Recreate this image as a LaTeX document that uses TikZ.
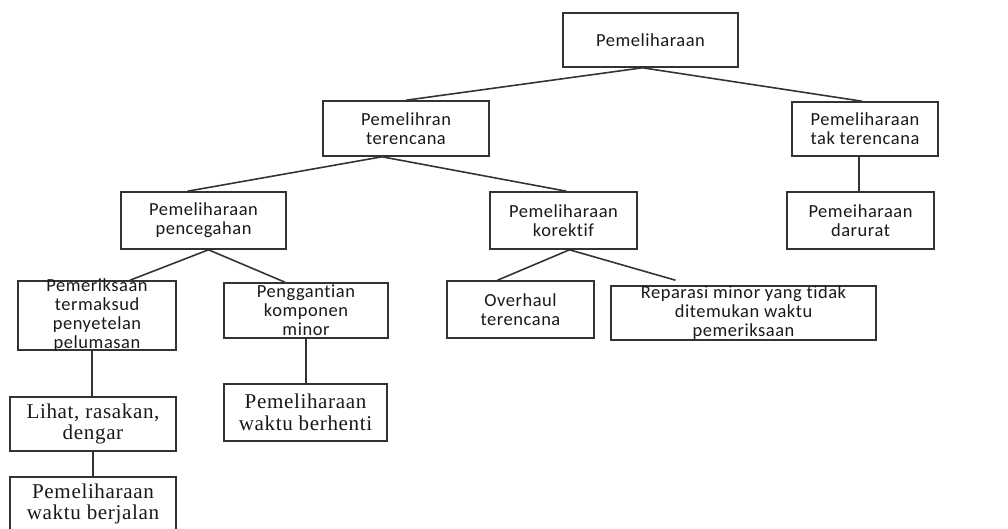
\documentclass[tikz,border=0pt]{standalone}
\usepackage{fontspec}
\newfontfamily\calib[LetterSpace=3,Ligatures=NoCommon]{Carlito}
\newfontfamily\tnr[LetterSpace=3]{Liberation Serif}
\usetikzlibrary{calc}
\tikzset{
  box/.style={draw=black!80,line width=0.9pt,inner sep=0pt,align=center,
    text=black!90,font=\calib\fontsize{10.5}{10.8}\selectfont},
  sbox/.style={box,font=\tnr\fontsize{12}{12.3}\selectfont},
  link/.style={draw=black!80,line width=0.9pt}
}
\newcommand{\tallcell}[3]{\parbox[c][#1][c]{#2}{\centering #3}}

\begin{document}
\begin{tikzpicture}[x=0.02cm,y=-0.02cm]
    \useasboundingbox (0,0) rectangle (1008,528);
    \fill[white] (0,0) rectangle (1008,528);
    \clip (0,0) rectangle (1008,528);
    \node[box,minimum width=3.5cm,minimum height=1.08cm] (root) at (650.5,40) {Pemeliharaan};
    \node[box,minimum width=3.32cm,minimum height=1.1cm] (terencana) at (406,128.5) {Pemelihran\\terencana};
    \node[box,minimum width=2.92cm,minimum height=1.08cm] (tak) at (865,129) {Pemeliharaan\\tak terencana};
    \node[box,minimum width=3.3cm,minimum height=1.14cm] (pencegahan) at (203.5,220.5) {Pemeliharaan\\pencegahan};
    \node[box,minimum width=2.94cm,minimum height=1.14cm] (korektif) at (563.5,220.5) {Pemeliharaan\\korektif};
    \node[box,minimum width=2.94cm,minimum height=1.14cm] (darurat) at (860.5,220.5) {Pemeiharaan\\darurat};
    \node[box,minimum width=3.16cm,minimum height=1.38cm] (pemeriksaan) at (97,315.5)
      {\tallcell{1.38cm}{3cm}{Pemeriksaan\\termaksud\\penyetelan\\pelumasan}};
    \node[box,minimum width=3.28cm,minimum height=1.1cm] (penggantian) at (306,310.5) {Penggantian\\komponen\\minor};
    \node[box,minimum width=2.94cm,minimum height=1.14cm] (overhaul) at (520.5,309.5) {Overhaul\\terencana};
    \node[box,minimum width=5.3cm,minimum height=1.08cm] (reparasi) at (743.5,313)
      {\tallcell{1.08cm}{5.1cm}{Reparasi minor yang tidak\\ditemukan waktu\\pemeriksaan}};
    \node[sbox,minimum width=3.32cm,minimum height=1.08cm] (lihat) at (93,424) {Lihat, rasakan,\\dengar};
    \node[sbox,minimum width=3.26cm,minimum height=1.14cm] (berhenti) at (305.5,412.5) {Pemeliharaan\\waktu berhenti};
    \node[sbox,minimum width=3.32cm,minimum height=1.08cm] (berjalan) at (93,504) {Pemeliharaan\\waktu berjalan};

    \draw[link] ($(root.south)+(-8,0)$) -- (terencana.north);
    \draw[link] ($(root.south)+(-8,0)$) -- ($(tak.north)+(-3,0)$);
    \draw[link] ($(terencana.south)+(-24,0)$) -- ($(pencegahan.north)+(-16,0)$);
    \draw[link] ($(terencana.south)+(-24,0)$) -- ($(korektif.north)+(3,0)$);
    \draw[link] ($(tak.south)+(-6,0)$) -- ($(darurat.north)+(-1.5,0)$);
    \draw[link] ($(pencegahan.south)+(5,0)$) -- ($(pemeriksaan.north)+(33,0)$);
    \draw[link] ($(pencegahan.south)+(5,0)$) -- ($(penggantian.north)+(-21,0)$);
    \draw[link] ($(korektif.south)+(6,0)$) -- ($(overhaul.north)+(-23,0)$);
    \draw[link] ($(korektif.south)+(6,0)$) -- ($(reparasi.north)+(-68,-5)$);
    \draw[link] ($(pemeriksaan.south)+(-5,0)$) -- ($(lihat.north)+(-1,0)$);
    \draw[link,line width=1.5pt] (lihat.south) -- (berjalan.north);
    \draw[link] (penggantian.south) -- ($(berhenti.north)+(0.5,0)$);
  \end{tikzpicture}
\end{document}
